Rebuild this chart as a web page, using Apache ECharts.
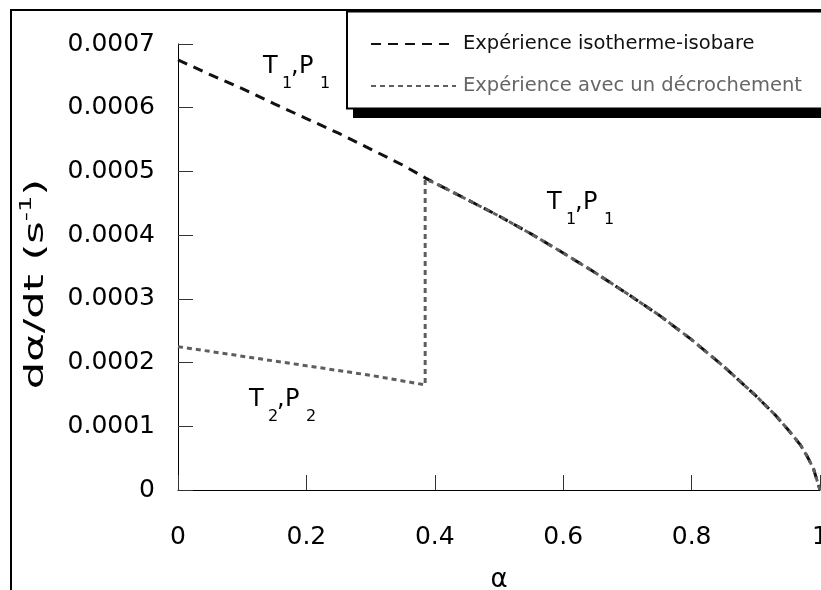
<!DOCTYPE html>
<html>
<head>
<meta charset="utf-8">
<script src="https://cdn.jsdelivr.net/npm/echarts@6/dist/echarts.min.js"></script>
<style>html,body{margin:0;padding:0;background:#fff}#c{width:821px;height:590px}</style>
</head>
<body>
<div id="c"></div>
<script>
// ---- data ----
const seriesNames = ['Expérience isotherme-isobare', 'Expérience avec un décrochement'];

// isothermal-isobaric experiment (black dashed)
const isoAlpha = [0, 0.05, 0.1, 0.15, 0.2, 0.25, 0.3, 0.35, 0.385, 0.4, 0.45, 0.5, 0.55, 0.6, 0.65, 0.7, 0.75, 0.8, 0.85, 0.9, 0.93, 0.95, 0.97, 0.98, 0.99, 1];
const isoRate  = [0.000675, 0.000652, 0.000630, 0.000606, 0.000583, 0.000560, 0.000535, 0.000510, 0.000490, 0.000482, 0.000456, 0.000430, 0.000402, 0.000372, 0.000341, 0.000308, 0.000274, 0.000236, 0.000194, 0.000148, 0.000118, 0.000095, 0.000070, 0.000053, 0.000033, 0];

// experiment with a step change (grey dotted)
const stepAlpha = [0, 0.1, 0.2, 0.3, 0.385, 0.385, 0.4, 0.45, 0.5, 0.55, 0.6, 0.65, 0.7, 0.75, 0.8, 0.85, 0.9, 0.93, 0.95, 0.97, 0.98, 0.99, 1];
const stepRate  = [0.000225, 0.000210, 0.000195, 0.000180, 0.000165, 0.000487, 0.000482, 0.000456, 0.000430, 0.000402, 0.000372, 0.000341, 0.000308, 0.000274, 0.000236, 0.000194, 0.000148, 0.000118, 0.000095, 0.000070, 0.000053, 0.000033, 0];

// axis settings
const xMin = 0, xMax = 1, xStep = 0.2;
const yMin = 0, yMax = 0.0007, yStep = 0.0001;
const xTitle = 'α';
const yTitle = ['dα/dt (s', '-1', ')'];

// condition labels (main letter, subscript, main letter, subscript)
const condLabels = [
  ['T', '1', 'P', '1'],
  ['T', '1', 'P', '1'],
  ['T', '2', 'P', '2']
];

const FONT = 'DejaVu Sans';
const isoData = isoAlpha.map((a, i) => [a, isoRate[i]]);
const stepData = stepAlpha.map((a, i) => [a, stepRate[i]]);

const chart = echarts.init(document.getElementById('c'), null, {renderer: 'canvas'});

// label layout (pixel anchors, text layout only)
const condPos = [[263, 66.5], [547, 202.5], [249, 399.5]];
function condGroup(c, p) {
  const big = {fontFamily: FONT, fontSize: 24, fill: '#000', align: 'left', verticalAlign: 'middle'};
  const small = {fontFamily: FONT, fontSize: 16, fill: '#000', align: 'left', verticalAlign: 'middle'};
  return {
    type: 'group', x: p[0], y: p[1], z: 5, silent: true,
    children: [
      {type: 'text', x: 0, y: 0, style: Object.assign({text: c[0]}, big)},
      {type: 'text', x: 19, y: 17, style: Object.assign({text: c[1]}, small)},
      {type: 'text', x: 28, y: 0, style: Object.assign({text: ','}, big)},
      {type: 'text', x: 36, y: 0, style: Object.assign({text: c[2]}, big)},
      {type: 'text', x: 57, y: 17, style: Object.assign({text: c[3]}, small)}
    ]
  };
}

const option = {
  animation: false,
  backgroundColor: '#fff',
  grid: {left: 178, right: 1, top: 44, bottom: 100, outerBoundsMode: 'none', containLabel: false},
  xAxis: {
    type: 'value', min: xMin, max: xMax, interval: xStep,
    axisLine: {show: true, lineStyle: {color: '#000', width: 1}},
    axisTick: {show: true, inside: true, length: 15, lineStyle: {color: '#333', width: 1}},
    splitLine: {show: false},
    axisLabel: {fontFamily: FONT, fontSize: 25, color: '#000', margin: 35,
      formatter: v => String(+v.toFixed(1))},
    name: xTitle, nameLocation: 'middle', nameGap: 77,
    nameTextStyle: {fontFamily: FONT, fontSize: 26, color: '#000'}
  },
  yAxis: {
    type: 'value', min: yMin, max: yMax, interval: yStep,
    axisLine: {show: true, lineStyle: {color: '#000', width: 1}},
    axisTick: {show: true, inside: true, length: 15, lineStyle: {color: '#333', width: 1}},
    splitLine: {show: false},
    axisLabel: {fontFamily: FONT, fontSize: 25, color: '#000', margin: 23,
      formatter: v => (v === 0 ? '0' : v.toFixed(4))}
  },
  legend: {
    left: 365, top: 29, orient: 'vertical',
    itemWidth: 85, itemHeight: 20, itemGap: 22,
    itemStyle: {opacity: 0, borderWidth: 0},
    textStyle: {fontFamily: FONT, fontSize: 19.5, padding: [0, 0, 0, 2]},
    data: [
      {name: seriesNames[0], textStyle: {color: '#111'}},
      {name: seriesNames[1], textStyle: {color: '#666'}}
    ],
    z: 10
  },
  series: [
    {
      name: seriesNames[0], type: 'line', data: isoData, symbol: 'none', smooth: false,
      lineStyle: {color: '#111', width: 3, type: [10, 7]}, itemStyle: {color: '#111'}, z: 2
    },
    {
      name: seriesNames[1], type: 'line', data: stepData, symbol: 'none', smooth: false,
      lineStyle: {color: '#5e5e5e', width: 3, type: [5, 4]}, itemStyle: {color: '#5e5e5e'}, z: 3
    }
  ],
  graphic: [
    {type: 'rect', z: 0, silent: true, shape: {x: 11, y: 10, width: 900, height: 700},
      style: {fill: 'none', stroke: '#000', lineWidth: 2}},
    {type: 'rect', z: 1, silent: true, shape: {x: 353, y: 18, width: 500, height: 100},
      style: {fill: '#000'}},
    {type: 'rect', z: 1, silent: true, shape: {x: 347, y: 11.5, width: 500, height: 97},
      style: {fill: '#fff', stroke: '#000', lineWidth: 2}},
    {
      type: 'text', z: 5, silent: true, x: 34, y: 284, rotation: Math.PI / 2, scaleX: 1.6, scaleY: 1,
      style: {
        text: '{a|' + yTitle[0] + '}{s|' + yTitle[1] + '}{a|' + yTitle[2] + '}',
        align: 'center', verticalAlign: 'middle',
        rich: {
          a: {fontFamily: FONT, fontSize: 27, fill: '#000', verticalAlign: 'bottom', lineHeight: 30},
          s: {fontFamily: FONT, fontSize: 16, fill: '#000', verticalAlign: 'top', lineHeight: 16}
        }
      }
    }
  ].concat(condLabels.map((c, i) => condGroup(c, condPos[i])))
};
chart.setOption(option);
</script>
</body>
</html>
